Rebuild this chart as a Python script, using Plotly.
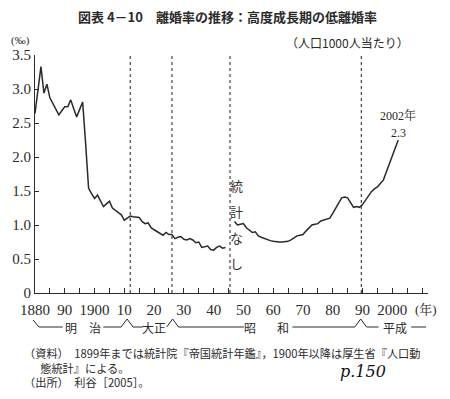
import plotly.graph_objects as go

years = list(range(1880, 2003))
rate = [
    2.64, 2.99, 3.33, 2.94, 3.07, 2.87, 2.78, 2.70, 2.62, 2.68,   # 1880-1889
    2.74, 2.74, 2.84, 2.71, 2.59, 2.70, 2.81, 2.20, 1.54, 1.46,   # 1890-1899
    1.39, 1.44, 1.35, 1.27, 1.31, 1.35, 1.25, 1.22, 1.19, 1.15,   # 1900-1909
    1.07, 1.10, 1.13, 1.12, 1.11, 1.11, 1.05, 1.02, 1.03, 0.96,   # 1910-1919
    0.93, 0.90, 0.87, 0.85, 0.89, 0.86, 0.86, 0.80, 0.82, 0.83,   # 1920-1929
    0.79, 0.78, 0.80, 0.78, 0.74, 0.75, 0.67, 0.68, 0.69, 0.64,   # 1930-1939
    0.63, 0.67, 0.69, 0.66, 0.67, None, None, 1.05, 1.00, 1.01,   # 1940-1949
    1.02, 0.96, 0.92, 0.89, 0.90, 0.84, 0.82, 0.80, 0.79, 0.77,   # 1950-1959
    0.76, 0.75, 0.75, 0.75, 0.75, 0.76, 0.78, 0.81, 0.84, 0.85,   # 1960-1969
    0.86, 0.91, 0.96, 1.00, 1.01, 1.02, 1.06, 1.07, 1.08, 1.10,   # 1970-1979
    1.17, 1.24, 1.33, 1.40, 1.41, 1.40, 1.33, 1.26, 1.27, 1.26,   # 1980-1989
    1.30, 1.37, 1.44, 1.49, 1.53, 1.56, 1.61, 1.66, 1.78, 1.90,   # 1990-1999
    2.00, 2.12, 2.25,                                            # 2000-2002
]

era_boundaries = [1912, 1926, 1945.5, 1989.6]
x_tickvals = list(range(1880, 2011, 5))
x_ticktext = [("" if (y % 10 or y > 2000) else (str(y) if y in (1880, 1900, 2000) else str(y % 100))) for y in x_tickvals]
y_tickvals = [0, 0.5, 1.0, 1.5, 2.0, 2.5, 3.0, 3.5]
y_ticktext = ["0", "0.5", "1.0", "1.5", "2.0", "2.5", "3.0", "3.5"]
no_stats_chars = ["統", "計", "な", "し"]

W, H = 450, 399
L, R, T, B = 31, 22, 55, 106
XMIN, XMAX = 1880, 2012
PW, PH = W - L - R, H - T - B

def px(x):
    return (x - L) / PW

def py(y):
    return (H - B - y) / PH

SERIF = "Liberation Serif, Noto Serif CJK JP, Noto Sans CJK JP, serif"
JP = "Noto Sans CJK JP, sans-serif"
INK = "#2a2a2a"

fig = go.Figure()
fig.add_trace(go.Scatter(x=years, y=rate, mode="lines", connectgaps=False,
                         line=dict(color=INK, width=1.5), hoverinfo="skip"))

shapes = []
for xb in era_boundaries:
    shapes.append(dict(type="line", xref="x", yref="y", x0=xb, x1=xb, y0=0, y1=3.5,
                       line=dict(color="#444", width=1.2, dash="dot")))

# era row lines (pixel-based)
ey = 327
def seg(x0, y0, x1, y1):
    shapes.append(dict(type="line", xref="paper", yref="paper",
                       x0=px(x0), y0=py(y0), x1=px(x1), y1=py(y1),
                       line=dict(color=INK, width=1)))
seg(29, 320, 35, ey)
seg(35, ey, 59, ey)
seg(100, ey, 118, ey)
seg(118, ey, 124, 319); seg(124, 319, 130, ey)
seg(130, ey, 140, ey)
seg(164, ey, 170, 319); seg(170, 319, 176, ey)
seg(176, ey, 242, ey)
seg(291, ey, 354, ey)
seg(354, ey, 360, 319); seg(360, 319, 366, ey)
seg(366, ey, 378, ey)
seg(411, ey, 426, ey)

annotations = []
def txt(x, y, s, size=12, font=JP, xanchor="center", color=INK, yanchor="middle", **kw):
    annotations.append(dict(xref="paper", yref="paper", x=px(x), y=py(y), text=s,
                            showarrow=False, xanchor=xanchor, yanchor=yanchor,
                            font=dict(size=size, family=font, color=color), **kw))

# era names
txt(67, 327, "明")
txt(92, 327, "治")
txt(151, 327, "大正")
txt(248, 327, "昭")
txt(282, 327, "和")
txt(395, 327, "平成")

# title and headers
txt(225, 17, "<b>図表 4－10　離婚率の推移：高度成長期の低離婚率</b>", size=13)
txt(5, 40, "(‰)", size=11, font=SERIF, xanchor="left")
txt(411, 43, "（人口1000人当たり）", size=12, xanchor="right")
txt(413, 309, "(年)", size=13, font=SERIF, xanchor="left")

# no statistics vertical text
for i, ch in enumerate(no_stats_chars):
    txt(235, 185 + i * 26, ch, size=13, color="#333")

# end label
txt(398, 115, "2002年", size=12, font=SERIF)
txt(398, 133, "2.3", size=12, font=SERIF)

# notes
notes = ("（資料）　1899年までは統計院『帝国統計年鑑』，1900年以降は厚生省『人口動"
         "<br>　&nbsp;&nbsp;態統計』による。"
         "<br>（出所）　利谷［2005］。")
txt(18, 343, notes, size=11.2, xanchor="left", yanchor="top", align="left")
txt(362, 371, "<i>p.150</i>", size=16, font="DejaVu Serif, serif", color="#111")

fig.update_layout(
    width=W, height=H,
    margin=dict(l=L, r=R, t=T, b=B, pad=0),
    paper_bgcolor="white", plot_bgcolor="white",
    showlegend=False,
    shapes=shapes, annotations=annotations,
    xaxis=dict(range=[XMIN, XMAX], tickvals=x_tickvals, ticktext=x_ticktext,
               ticks="inside", ticklen=5, tickcolor=INK, showgrid=False, zeroline=False,
               showline=True, linecolor=INK, linewidth=1.2, ticklabelstandoff=3,
               tickfont=dict(family=SERIF, size=15, color=INK)),
    yaxis=dict(range=[0, 3.5], tickvals=y_tickvals, ticktext=y_ticktext,
               ticks="inside", ticklen=4, tickcolor=INK, showgrid=False, zeroline=False,
               showline=True, linecolor=INK, linewidth=1.2,
               tickfont=dict(family=SERIF, size=15, color=INK)),
)

fig.write_html("out.html", config={"displayModeBar": False},
               post_script="document.body.style.margin='0px';")
